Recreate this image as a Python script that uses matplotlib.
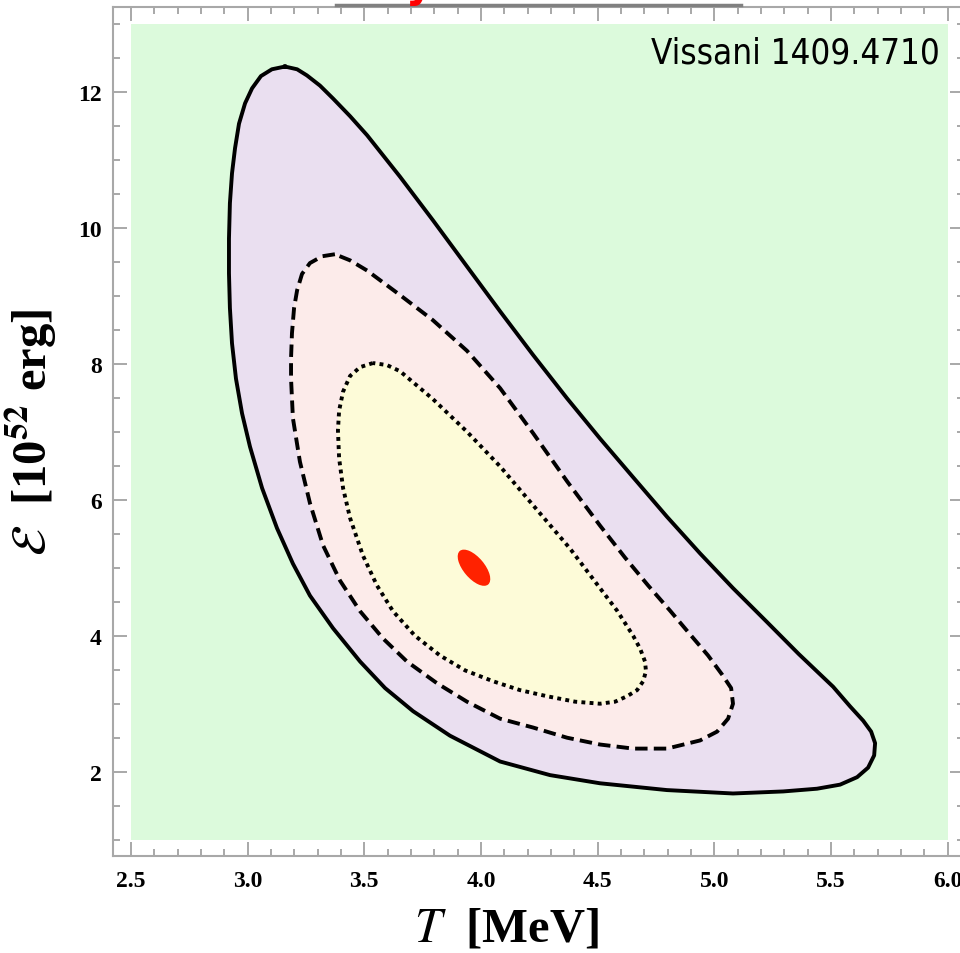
import matplotlib
matplotlib.use("Agg")
import matplotlib.pyplot as plt
from matplotlib.patches import Ellipse, Rectangle
from matplotlib.ticker import MultipleLocator, FormatStrFormatter

plt.rcParams['mathtext.fontset'] = 'stix'

# contours: T [MeV], E [1e52 erg]
outer_T = [3.160, 3.104, 3.057, 3.019, 2.989, 2.963, 2.946, 2.933, 2.924, 2.920, 2.920,
           2.924, 2.933, 2.950, 2.976, 3.010, 3.062, 3.126, 3.194, 3.267, 3.366, 3.482,
           3.589, 3.709, 3.867, 4.082, 4.296, 4.510, 4.797, 5.080, 5.295, 5.440, 5.539,
           5.612, 5.659, 5.685, 5.689, 5.672, 5.638, 5.582, 5.509, 5.362, 5.226, 5.080,
           4.939, 4.797, 4.652, 4.510, 4.369, 4.223, 4.082, 3.940, 3.794, 3.653, 3.512,
           3.439, 3.366, 3.310, 3.254, 3.212]
outer_E = [12.37, 12.33, 12.23, 12.05, 11.83, 11.53, 11.17, 10.80, 10.36, 9.84, 9.33,
           8.82, 8.30, 7.78, 7.27, 6.78, 6.17, 5.58, 5.06, 4.59, 4.11, 3.62,
           3.23, 2.89, 2.53, 2.15, 1.95, 1.83, 1.73, 1.68, 1.71, 1.75, 1.81,
           1.92, 2.06, 2.24, 2.42, 2.59, 2.75, 2.96, 3.25, 3.73, 4.20, 4.70,
           5.21, 5.75, 6.33, 6.90, 7.49, 8.13, 8.77, 9.43, 10.11, 10.75, 11.36,
           11.64, 11.90, 12.09, 12.24, 12.33]

dash_T = [3.374, 3.319, 3.267, 3.233, 3.212, 3.199, 3.190, 3.186, 3.186, 3.194, 3.224,
          3.267, 3.323, 3.396, 3.482, 3.580, 3.683, 3.812, 3.940, 4.082, 4.223, 4.369,
          4.510, 4.652, 4.797, 4.939, 5.012, 5.059, 5.080, 5.072, 5.033, 4.973, 4.896,
          4.810, 4.716, 4.617, 4.510, 4.369, 4.223, 4.082, 3.940, 3.794, 3.653, 3.512,
          3.439]
dash_E = [9.61, 9.58, 9.48, 9.32, 9.08, 8.82, 8.45, 8.08, 7.78, 7.20, 6.56,
          5.95, 5.33, 4.81, 4.36, 3.96, 3.62, 3.30, 3.03, 2.78, 2.65, 2.50,
          2.40, 2.34, 2.34, 2.46, 2.59, 2.78, 3.00, 3.23, 3.43, 3.71, 4.02,
          4.37, 4.74, 5.15, 5.62, 6.27, 6.98, 7.64, 8.19, 8.64, 9.01, 9.37,
          9.52]

dot_T = [3.537, 3.482, 3.439, 3.409, 3.392, 3.387, 3.392, 3.409, 3.439, 3.494, 3.554,
         3.623, 3.717, 3.824, 3.932, 4.052, 4.167, 4.283, 4.403, 4.510, 4.575, 4.626,
         4.669, 4.695, 4.707, 4.703, 4.682, 4.652, 4.583, 4.510, 4.382, 4.223, 4.082,
         3.940, 3.794, 3.653, 3.597]
dot_E = [8.01, 7.95, 7.82, 7.59, 7.31, 7.02, 6.61, 6.17, 5.73, 5.18, 4.74,
         4.36, 4.00, 3.71, 3.49, 3.33, 3.20, 3.11, 3.03, 3.00, 3.03, 3.11,
         3.20, 3.33, 3.48, 3.62, 3.81, 4.00, 4.37, 4.70, 5.28, 5.92, 6.49,
         7.00, 7.48, 7.89, 7.98]

best_fit = (3.97, 5.0)

T_range = (2.5, 6.0)
E_range = (1.0, 13.0)
x_ticks = [2.5, 3.0, 3.5, 4.0, 4.5, 5.0, 5.5, 6.0]
y_ticks = [2, 4, 6, 8, 10, 12]


def closed(xs, ys):
    return list(xs) + [xs[0]], list(ys) + [ys[0]]


fig = plt.figure(figsize=(9.6, 9.54), dpi=100)
ax = fig.add_axes([113 / 960, 97.3 / 954, 851 / 960, 848.3 / 954])
ax.set_xlim(2.423, 6.07)
ax.set_ylim(0.765, 13.24)

# background region
ax.add_patch(Rectangle((T_range[0], E_range[0]), T_range[1] - T_range[0],
                       E_range[1] - E_range[0], facecolor='#dcfadc', edgecolor='none', zorder=0))

ax.fill(outer_T, outer_E, color='#eadff0', zorder=1)
ax.fill(dash_T, dash_E, color='#fcebea', zorder=2)
ax.fill(dot_T, dot_E, color='#fdfbd8', zorder=3)

x, y = closed(outer_T, outer_E)
ax.plot(x, y, color='black', lw=2.8, solid_joinstyle='round', zorder=4)
x, y = closed(dash_T, dash_E)
ax.plot(x, y, color='black', lw=2.8, linestyle=(0, (3.2, 1.6)), zorder=4)
x, y = closed(dot_T, dot_E)
ax.plot(x, y, color='black', lw=2.8, linestyle=(0, (1, 1.1)), zorder=4)

# best fit point, drawn in axes fraction so it keeps its tilt
cx, cy = ax.transLimits.transform(best_fit)
ax.add_patch(Ellipse((cx, cy), 44 / 851, 21 / 848, angle=-50, transform=ax.transAxes,
                     facecolor='#ff2200', edgecolor='none', zorder=5))

# axes styling (Mathematica-like frame)
for s in ax.spines.values():
    s.set_color('#a8a8a8')
    s.set_linewidth(1.5)
ax.xaxis.set_major_locator(MultipleLocator(0.5))
ax.xaxis.set_minor_locator(MultipleLocator(0.1))
ax.yaxis.set_major_locator(MultipleLocator(2))
ax.yaxis.set_minor_locator(MultipleLocator(0.5))
ax.set_xticks(x_ticks)
ax.set_yticks(y_ticks)
ax.xaxis.set_major_formatter(FormatStrFormatter('%.1f'))
ax.tick_params(which='both', direction='in', top=True, right=True, color='#999999', width=1.2)
ax.tick_params(which='major', length=10)
ax.tick_params(which='minor', length=5)
ax.tick_params(axis='x', pad=10)
ax.tick_params(axis='y', pad=8)
for lab in ax.get_xticklabels() + ax.get_yticklabels():
    lab.set_fontfamily('Liberation Serif')
    lab.set_fontweight('bold')
    lab.set_fontsize(17)

ax.set_xlabel(r'$T$  [MeV]', fontfamily='Liberation Serif', fontweight='bold', fontsize=35)
ax.xaxis.set_label_coords(0.462, -0.06, transform=ax.transAxes)
ax.xaxis.label.set_va('top')
ax.set_ylabel(r'$\mathcal{E}$  [10$^{\mathbf{52}}$ erg]', fontfamily='Liberation Serif',
              fontweight='bold', fontsize=35, labelpad=14)

fig.text(940 / 960, 1 - 63 / 954, 'Vissani 1409.4710', ha='right', va='baseline',
         fontsize=25, fontstretch='condensed', family=['DejaVu Sans'])

# remnants of the cut-off title above the frame
fig.add_artist(plt.Line2D([336 / 960, 741 / 960], [1 - 6 / 954, 1 - 6 / 954],
                          color='#808080', lw=2.5))
fig.text(419 / 960, 1 + 3 / 954, 'y', color='red', fontsize=30, fontweight='bold',
         ha='center', va='baseline')

fig.savefig('out.png', dpi=100)
